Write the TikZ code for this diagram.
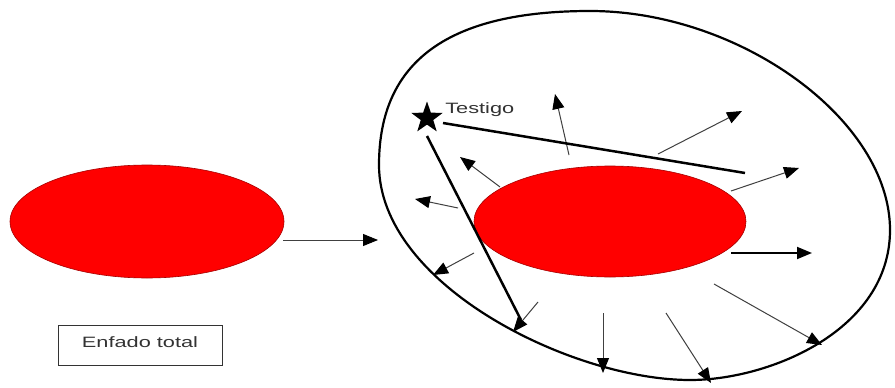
\documentclass[tikz,border=0pt]{standalone}
\usepackage{fontspec}
\setmainfont{Liberation Sans}
\usetikzlibrary{arrows.meta,shapes.geometric}
\begin{document}
\begin{tikzpicture}[x=1pt,y=-1pt,
  blob/.style={ellipse, draw=red!65!black, line width=0.6pt, fill=red, inner sep=0pt},
  ray/.style={draw=black!75, line width=1pt, -{Triangle[length=15pt,width=12pt,color=black]}},
  bar/.style={line width=2.5pt, draw=black},
  zone/.style={draw=black, line width=2.2pt},
  lbl/.style={font=\fontsize{15}{18}\selectfont, text=black!80, xscale=1.45, inner sep=0pt},
  boxed/.style={draw=black!80, line width=0.9pt, minimum width=164pt, minimum height=40pt, inner sep=0pt}]
\useasboundingbox (0,0) rectangle (895,388);
\fill[white] (0,0) rectangle (895,388);
% left blob and arrow
\node[blob, minimum width=274pt, minimum height=113pt] (L) at (147,221.5) {};
\coordinate (a0) at (283,240);
\coordinate (a1) at (378,240);
\draw[ray] (a0) -- (a1);
% outer zone
\draw[zone] (379,165) .. controls (379,60) and (450,11) .. (590,11)
  .. controls (740,11) and (890,120) .. (890,230)
  .. controls (890,330) and (770,380) .. (690,380)
  .. controls (572,380) and (379,285) .. cycle;
% inner blob
\node[blob, minimum width=272pt, minimum height=111pt] (R) at (610,221.5) {};
% radial arrows
\coordinate (p1) at (569,155);   \coordinate (q1) at (555,94);
\coordinate (p2) at (658,154);   \coordinate (q2) at (742,111);
\coordinate (p3) at (731,191);   \coordinate (q3) at (799,168);
\coordinate (p4) at (731,253);   \coordinate (q4) at (812,253);
\coordinate (p5) at (714,284);   \coordinate (q5) at (822,345);
\coordinate (p6) at (666,313);   \coordinate (q6) at (711,383);
\coordinate (p7) at (603,313);   \coordinate (q7) at (603,373);
\coordinate (p8) at (538,302);   \coordinate (q8) at (513,332);
\coordinate (p9) at (474,253);   \coordinate (q9) at (433,275);
\coordinate (p10) at (458,208);  \coordinate (q10) at (415,199);
\coordinate (p11) at (500,187);  \coordinate (q11) at (460,157);
\foreach \i in {1,2,3,5,6,7,8,9,10,11} {\draw[ray] (p\i) -- (q\i);}
\draw[ray, draw=black, line width=1.8pt] (p4) -- (q4);
% witness
\node[star, star points=5, star point ratio=2.5, fill=black, minimum size=33pt, inner sep=0pt] (S) at (427,118) {};
\node[lbl, anchor=base west] (T) at (445,113) {Testigo};
\coordinate (s1) at (443,123); \coordinate (e1) at (745,173);
\coordinate (s2) at (427,136); \coordinate (e2) at (521,320);
\draw[bar] (s1) -- (e1);
\draw[bar] (s2) -- (e2);
% legend box
\node[boxed] (B) at (140,345) {};
\node[lbl, anchor=base] (Bt) at (140,347) {Enfado total};
\end{tikzpicture}
\end{document}
